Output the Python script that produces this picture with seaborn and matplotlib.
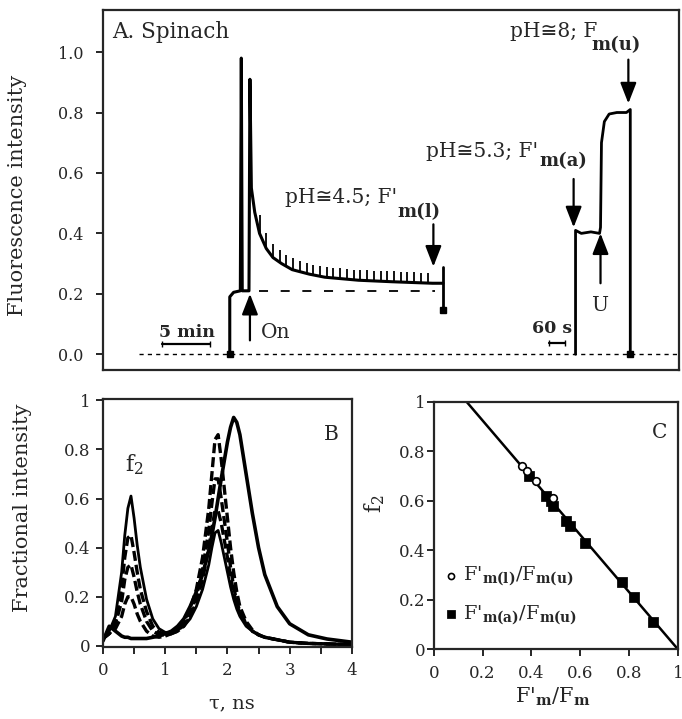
import matplotlib
matplotlib.use('Agg')
import matplotlib.pyplot as plt
import seaborn as sns

# ---- panel A: fluorescence trace (time in minutes)
trace1_t = [13.2, 13.2, 13.6, 14.3, 14.4, 14.5, 15.2, 15.3, 15.45, 15.8, 16.3, 17.0,
            17.7, 18.6, 19.7, 21.5, 23.1, 26.6, 30.1, 34.3, 35.4]
trace1_f = [0.0, 0.19, 0.205, 0.21, 0.98, 0.21, 0.21, 0.91, 0.55, 0.47, 0.40, 0.35,
            0.32, 0.30, 0.28, 0.265, 0.255, 0.245, 0.24, 0.235, 0.235]
flash_t = [16.3, 17.0, 17.7, 18.4, 19.1, 19.8, 20.5, 21.2, 21.9, 22.6, 23.3, 24.0, 24.7,
           25.4, 26.1, 26.8, 27.5, 28.2, 28.9, 29.6, 30.3, 31.0, 31.7, 32.4, 33.1, 33.8]
flash_lo = [0.40, 0.35, 0.32, 0.303, 0.29, 0.28, 0.273, 0.268, 0.262, 0.258, 0.255, 0.252,
            0.25, 0.248, 0.246, 0.245, 0.244, 0.243, 0.242, 0.241, 0.24, 0.239, 0.238,
            0.237, 0.236, 0.235]
flash_hi = [0.46, 0.40, 0.365, 0.345, 0.33, 0.318, 0.31, 0.303, 0.297, 0.292, 0.289, 0.286,
            0.284, 0.282, 0.28, 0.279, 0.278, 0.277, 0.276, 0.275, 0.274, 0.273, 0.272,
            0.271, 0.27, 0.269]
end_t = [35.4, 35.4]
end_f = [0.29, 0.145]
trace2_t = [49.2, 49.2, 49.8, 50.8, 51.7, 51.8, 51.9, 52.2, 52.7, 53.5, 54.5, 54.9, 54.9]
trace2_f = [0.0, 0.41, 0.40, 0.405, 0.40, 0.42, 0.70, 0.77, 0.795, 0.80, 0.80, 0.81, 0.0]
dots_t = [13.2, 35.4, 54.9]
dots_f = [0.0, 0.145, 0.0]
base_t = [3.75, 60.0]
dark_t = [16.2, 34.6]
dark_f = 0.21
a_ticks = [0.0, 0.2, 0.4, 0.6, 0.8, 1.0]
a_ticklabels = ['0.0', '0.2', '0.4', '0.6', '0.8', '1.0']

# ---- panel B: lifetime distributions
tau = [0, 0.1, 0.2, 0.3, 0.35, 0.4, 0.45, 0.5, 0.55, 0.6, 0.7, 0.8, 0.9, 1.0, 1.1, 1.2,
       1.3, 1.4, 1.5, 1.6, 1.7, 1.75, 1.8, 1.85, 1.9, 2.0, 2.05, 2.1, 2.15, 2.2, 2.3,
       2.4, 2.5, 2.6, 2.8, 3.0, 3.3, 3.6, 4.0]
dist_s1 = [0.02, 0.08, 0.06, 0.04, 0.035, 0.035, 0.03, 0.03, 0.03, 0.03, 0.03, 0.035,
           0.04, 0.05, 0.06, 0.08, 0.11, 0.16, 0.22, 0.29, 0.39, 0.45, 0.52, 0.60, 0.68,
           0.83, 0.89, 0.93, 0.91, 0.86, 0.70, 0.54, 0.40, 0.29, 0.16, 0.09, 0.045,
           0.028, 0.015]
dist_s2 = [0.03, 0.06, 0.12, 0.30, 0.45, 0.56, 0.61, 0.52, 0.41, 0.32, 0.19, 0.11, 0.07,
           0.055, 0.055, 0.065, 0.08, 0.11, 0.16, 0.23, 0.33, 0.40, 0.46, 0.47, 0.42,
           0.30, 0.24, 0.19, 0.15, 0.12, 0.08, 0.06, 0.045, 0.035, 0.025, 0.015, 0.01,
           0.008, 0.005]
dist_d1 = [0.03, 0.05, 0.10, 0.24, 0.36, 0.44, 0.45, 0.38, 0.30, 0.23, 0.14, 0.08, 0.055,
           0.05, 0.05, 0.06, 0.08, 0.12, 0.18, 0.27, 0.40, 0.48, 0.55, 0.55, 0.50, 0.36,
           0.28, 0.22, 0.17, 0.13, 0.09, 0.06, 0.045, 0.035, 0.025, 0.015, 0.01, 0.008,
           0.005]
dist_d2 = [0.03, 0.05, 0.09, 0.18, 0.27, 0.32, 0.33, 0.28, 0.22, 0.17, 0.10, 0.06, 0.045,
           0.045, 0.05, 0.06, 0.09, 0.13, 0.20, 0.31, 0.47, 0.58, 0.68, 0.68, 0.60, 0.42,
           0.32, 0.24, 0.18, 0.14, 0.09, 0.06, 0.045, 0.035, 0.025, 0.015, 0.01, 0.008,
           0.005]
dist_d3 = [0.03, 0.05, 0.07, 0.12, 0.17, 0.20, 0.20, 0.17, 0.13, 0.10, 0.06, 0.04, 0.035,
           0.04, 0.05, 0.07, 0.10, 0.15, 0.23, 0.36, 0.56, 0.70, 0.84, 0.86, 0.76, 0.52,
           0.40, 0.30, 0.22, 0.16, 0.10, 0.065, 0.045, 0.035, 0.025, 0.015, 0.01, 0.008,
           0.005]
unit_ticks = [0, 0.2, 0.4, 0.6, 0.8, 1.0]
unit_ticklabels = ['0', '0.2', '0.4', '0.6', '0.8', '1']

# ---- panel C: f2 versus F'm/Fm
fl_x = [0.36, 0.38, 0.42, 0.49]
fl_y = [0.74, 0.72, 0.68, 0.61]
fa_x = [0.39, 0.46, 0.48, 0.49, 0.54, 0.56, 0.62, 0.77, 0.82, 0.90]
fa_y = [0.70, 0.62, 0.60, 0.58, 0.52, 0.50, 0.43, 0.27, 0.21, 0.11]
fit_x = [0.135, 1.0]
fit_y = [1.0, 0.0]

sns.set_style('ticks')
plt.rcParams['font.family'] = ['DejaVu Serif', 'DejaVu Sans']
plt.rcParams['mathtext.fontset'] = 'dejavuserif'
plt.rcParams['axes.linewidth'] = 1.6
plt.rcParams['xtick.major.width'] = 1.4
plt.rcParams['ytick.major.width'] = 1.4
plt.rcParams['xtick.minor.width'] = 1.4

fig = plt.figure(figsize=(6.82, 7.19), dpi=100)
axA = fig.add_axes([0.151, 0.485, 0.845, 0.501])
axB = fig.add_axes([0.151, 0.100, 0.365, 0.345])
axC = fig.add_axes([0.636, 0.097, 0.358, 0.344])

K = 'black'
arrow = dict(arrowstyle='-|>,head_length=0.9,head_width=0.35', mutation_scale=14,
             lw=1.6, color=K, shrinkA=0, shrinkB=0)

# panel A
sns.lineplot(x=base_t, y=[0, 0], ax=axA, color=K, lw=1.0, linestyle=(0, (3, 3)))
sns.lineplot(x=dark_t, y=[dark_f, dark_f], ax=axA, color=K, lw=1.3, linestyle=(0, (5, 7)))
sns.lineplot(x=trace1_t, y=trace1_f, ax=axA, color=K, lw=2.2, sort=False, estimator=None)
sns.lineplot(x=end_t, y=end_f, ax=axA, color=K, lw=2.0, sort=False, estimator=None)
sns.lineplot(x=trace2_t, y=trace2_f, ax=axA, color=K, lw=2.0, sort=False, estimator=None)
axA.vlines(flash_t, flash_lo, flash_hi, color=K, lw=1.3)
axA.plot(dots_t, dots_f, 's', color=K, ms=5)
axA.set_xlim(0, 60)
axA.set_ylim(-0.053, 1.139)
axA.set_xticks([])
axA.set_yticks(a_ticks)
axA.set_yticklabels(a_ticklabels)
axA.tick_params(axis='y', length=5, pad=9, labelsize=11.5)
axA.set_ylabel('Fluorescence intensity', fontsize=15)
axA.yaxis.label.set_va('center')
axA.yaxis.set_label_coords(-0.149, 0.486)

axA.text(1.0, 1.066, 'A. Spinach', fontsize=15.5, va='center', ha='left')
axA.text(19.0, 0.50, "pH\u22454.5; F'", fontsize=14.5, va='baseline')
axA.text(30.7, 0.455, 'm(l)', fontsize=13, weight='bold', va='baseline')
axA.text(33.6, 0.652, "pH\u22455.3; F'", fontsize=14.5, va='baseline')
axA.text(45.4, 0.622, 'm(a)', fontsize=13, weight='bold', va='baseline')
axA.text(42.4, 1.05, "pH\u22458; F", fontsize=14.5, va='baseline')
axA.text(50.9, 1.005, 'm(u)', fontsize=13, weight='bold', va='baseline')
axA.text(51.8, 0.16, 'U', fontsize=14.5, ha='center', va='center')
axA.text(16.4, 0.073, 'On', fontsize=14.5, ha='left', va='center')
axA.text(8.75, 0.073, '5 min', fontsize=12.5, ha='center', va='center', weight='bold')
axA.text(46.8, 0.086, '60 s', fontsize=12.5, ha='center', va='center', weight='bold')
axA.plot([6.1, 11.1], [0.033, 0.033], color=K, lw=1.6, marker='|', ms=5)
axA.plot([46.4, 48.1], [0.036, 0.036], color=K, lw=1.6, marker='|', ms=5)

axA.annotate('', xy=(15.3, 0.20), xytext=(15.3, 0.046), arrowprops=arrow)
axA.annotate('', xy=(34.4, 0.29), xytext=(34.4, 0.43), arrowprops=arrow)
axA.annotate('', xy=(49.0, 0.42), xytext=(49.0, 0.58), arrowprops=arrow)
axA.annotate('', xy=(51.8, 0.40), xytext=(51.8, 0.235), arrowprops=arrow)
axA.annotate('', xy=(54.7, 0.83), xytext=(54.7, 0.975), arrowprops=arrow)

# panel B
for d in (dist_d3, dist_d2, dist_d1):
    sns.lineplot(x=tau, y=d, ax=axB, color=K, lw=2.4, linestyle=(0, (3, 1.2)))
sns.lineplot(x=tau, y=dist_s2, ax=axB, color=K, lw=2.0)
sns.lineplot(x=tau, y=dist_s1, ax=axB, color=K, lw=2.6)
axB.set_xlim(0, 4)
axB.set_ylim(-0.005, 1.005)
axB.set_xticks([0, 1, 2, 3, 4])
axB.set_xticks([0.5, 1.5, 2.5, 3.5], minor=True)
axB.set_yticks(unit_ticks)
axB.set_yticklabels(unit_ticklabels)
axB.tick_params(length=5, labelsize=12, pad=6)
axB.tick_params(axis='x', which='minor', length=5)
axB.tick_params(axis='y', pad=4)
axB.set_xlabel('\u03c4, ns', fontsize=14)
axB.xaxis.label.set_va('center')
axB.xaxis.set_label_coords(0.518, -0.226)
axB.set_ylabel('Fractional intensity', fontsize=15)
axB.yaxis.label.set_va('center')
axB.yaxis.set_label_coords(-0.325, 0.56)
axB.text(0.36, 0.71, 'f$_2$', fontsize=16, va='baseline')
axB.text(3.67, 0.86, 'B', fontsize=14.5, ha='center', va='center')

# panel C
sns.lineplot(x=fit_x, y=fit_y, ax=axC, color=K, lw=1.8)
sns.scatterplot(x=fa_x, y=fa_y, ax=axC, marker='s', color=K, s=45, edgecolor=K, zorder=3,
                label="F$'_{\\mathbf{m(a)}}$/F$_{\\mathbf{m(u)}}$")
sns.scatterplot(x=fl_x, y=fl_y, ax=axC, marker='o', facecolor='white', edgecolor=K,
                s=30, linewidth=1.2, zorder=4,
                label="F$'_{\\mathbf{m(l)}}$/F$_{\\mathbf{m(u)}}$")
h, l = axC.get_legend_handles_labels()
axC.legend(h[::-1], l[::-1], loc='lower left', bbox_to_anchor=(0.0, 0.06),
           frameon=False, fontsize=14, handletextpad=0.1, borderaxespad=0,
           labelspacing=0.75, markerscale=0.8, handlelength=1.0)
axC.set_xlim(0, 1)
axC.set_ylim(0, 1)
axC.set_xticks(unit_ticks)
axC.set_xticklabels(unit_ticklabels)
axC.set_yticks(unit_ticks)
axC.set_yticklabels(unit_ticklabels)
axC.tick_params(length=5, labelsize=12, pad=6)
axC.tick_params(axis='y', pad=1)
axC.set_xlabel("F$'_{\\mathbf{m}}$/F$_{\\mathbf{m}}$", fontsize=15)
axC.xaxis.label.set_va('center')
axC.xaxis.set_label_coords(0.488, -0.194)
axC.set_ylabel('f$_2$', fontsize=16)
axC.yaxis.label.set_va('center')
axC.yaxis.set_label_coords(-0.242, 0.59)
axC.text(0.926, 0.875, 'C', fontsize=14.5, ha='center', va='center')

fig.savefig('out.png', dpi=100)
